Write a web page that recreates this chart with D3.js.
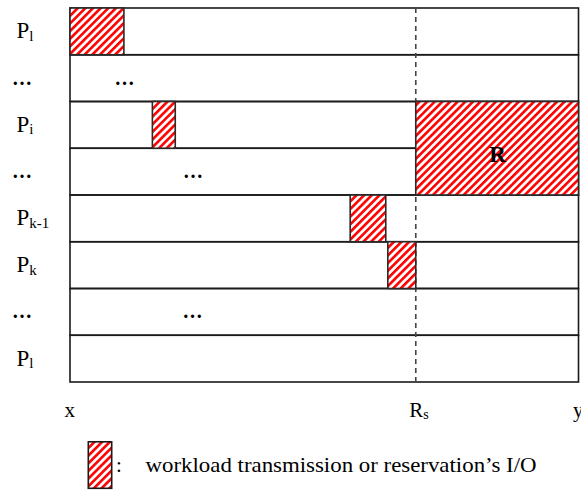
<!DOCTYPE html>
<html><head><meta charset="utf-8">
<script src="https://cdn.jsdelivr.net/npm/d3@7"></script>
<style>body{margin:0;background:#fff}</style>
</head><body>
<script>
// Row labels (main letter + subscript)
const rowMain = ["P", "…", "P", "…", "P", "P", "…", "P"];
const rowSub  = ["l", "",  "i", "",  "k-1", "k", "",  "l"];
// Inline ellipses inside rows: [row index, time position (center)]
const innerDotsRow = [1, 3, 6];
const innerDotsPos = [10.7, 24.2, 24.1];
// Hatched blocks: start row, end row (inclusive), start time, end time
const blockRow0 = [0, 2, 2, 4, 5];
const blockRow1 = [0, 2, 3, 4, 5];
const blockT0   = [0, 16.2, 68.0, 55.1, 62.5];
const blockT1   = [10.6, 20.7, 100, 62.1, 68.0];
const blockText = ["", "", "R", "", ""];
// Axis labels
const Rs = 68.0;
const axisLabelPos = [0, Rs, 100];
const axisLabelMain = ["x", "R", "y"];
const axisLabelSub = ["", "s", ""];
const legendText = "workload transmission or reservation’s I/O";

const W = 581, H = 490;
const svg = d3.select("body").append("svg").attr("width", W).attr("height", H)
  .style("font-family", "'Liberation Serif','Times New Roman',serif");

const x = d3.scaleLinear().domain([0, 100]).range([70, 578.5]);
const y = d3.scaleBand().domain(d3.range(rowMain.length)).range([8, 382]).padding(0);

const defs = svg.append("defs");
const pat = defs.append("pattern").attr("id", "hatch")
  .attr("patternUnits", "userSpaceOnUse").attr("width", 5.4).attr("height", 5.4)
  .attr("patternTransform", "rotate(45)");
pat.append("rect").attr("width", 5.4).attr("height", 5.4).attr("fill", "#fff");
pat.append("rect").attr("width", 2.6).attr("height", 5.4).attr("fill", "#ff0000");

// rows
svg.append("g").selectAll("rect").data(d3.range(rowMain.length)).join("rect")
  .attr("x", x(0)).attr("y", d => y(d)).attr("width", x(100) - x(0)).attr("height", y.bandwidth())
  .attr("fill", "none").attr("stroke", "#1a1a1a").attr("stroke-width", 1.6);

// dashed Rs line
svg.append("line").attr("x1", x(Rs)).attr("x2", x(Rs)).attr("y1", y.range()[0]).attr("y2", y.range()[1])
  .attr("stroke", "#444").attr("stroke-width", 1.6).attr("stroke-dasharray", "5,4");

// blocks
const blocks = d3.range(blockT0.length).map(i => ({r0: blockRow0[i], r1: blockRow1[i], t0: blockT0[i], t1: blockT1[i], txt: blockText[i]}));
svg.append("g").selectAll("rect").data(blocks).join("rect")
  .attr("x", d => x(d.t0)).attr("y", d => y(d.r0))
  .attr("width", d => x(d.t1) - x(d.t0)).attr("height", d => y(d.r1) + y.bandwidth() - y(d.r0))
  .attr("fill", "url(#hatch)").attr("stroke", "#2a2a2a").attr("stroke-width", 1.6);
svg.append("g").selectAll("text").data(blocks.filter(d => d.txt)).join("text")
  .attr("x", d => (x(d.t0) + x(d.t1)) / 2 + 0.5)
  .attr("y", d => (y(d.r0) + y(d.r1) + y.bandwidth()) / 2 + 14)
  .attr("text-anchor", "middle").attr("font-weight", "bold").attr("font-size", 23).text(d => d.txt);

// row labels
const isDots = d => rowMain[d] === "…";
const lab = svg.append("g").selectAll("text").data(d3.range(rowMain.length)).join("text")
  .attr("font-size", d => isDots(d) ? 20 : 23)
  .attr("x", d => isDots(d) ? 22 : 16.5)
  .attr("y", d => y(d) + y.bandwidth() / 2 + (isDots(d) ? 6.5 : 7))
  .attr("text-anchor", d => isDots(d) ? "middle" : "start")
  .attr("font-weight", d => isDots(d) ? "bold" : "normal");
lab.append("tspan").text(d => rowMain[d]);
lab.append("tspan").attr("font-size", 15).attr("dy", 2.5).text(d => rowSub[d]);

// inner dots
svg.append("g").selectAll("text").data(innerDotsRow.map((r, i) => ({r, t: innerDotsPos[i]}))).join("text")
  .attr("x", d => x(d.t)).attr("y", d => y(d.r) + y.bandwidth() / 2 + 6.5)
  .attr("text-anchor", "middle").attr("font-size", 20).attr("font-weight", "bold").text("…");

// axis labels
const al = svg.append("g").selectAll("text").data(axisLabelPos.map((p, i) => i)).join("text")
  .attr("x", i => x(axisLabelPos[i]) + (i === 0 ? -5.5 : i === 1 ? -6.5 : -5.5))
  .attr("y", 417).attr("font-size", 21);
al.append("tspan").text(i => axisLabelMain[i]);
al.append("tspan").attr("font-size", 14).attr("dy", 2).text(i => axisLabelSub[i]);

// legend
svg.append("rect").attr("x", 88.3).attr("y", 441.8).attr("width", 23.4).attr("height", 46.5)
  .attr("fill", "url(#hatch)").attr("stroke", "#1a1a1a").attr("stroke-width", 1.6);
svg.append("text").attr("x", 116).attr("y", 471.5).attr("font-size", 21).text(":");
svg.append("text").attr("x", 145.5).attr("y", 471.5).attr("font-size", 21.5)
  .attr("textLength", 391).attr("lengthAdjust", "spacingAndGlyphs").text(legendText);
</script>
</body></html>
